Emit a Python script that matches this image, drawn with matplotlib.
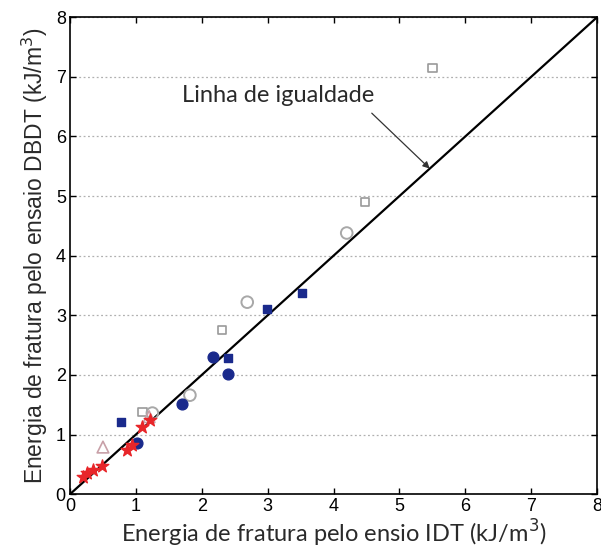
import matplotlib
matplotlib.use("Agg")
import matplotlib.pyplot as plt
import numpy as np

# Fracture energy: IDT (x) vs DBDT (y), kJ/m3
sq_open_x = [5.50, 4.48, 2.31, 1.10]
sq_open_y = [7.15, 4.90, 2.75, 1.38]

circ_open_x = [4.20, 2.69, 1.82, 1.25]
circ_open_y = [4.38, 3.22, 1.66, 1.36]

sq_fill_x = [3.52, 2.99, 2.40, 0.77]
sq_fill_y = [3.37, 3.10, 2.28, 1.21]

circ_fill_x = [2.17, 2.40, 1.70, 1.02]
circ_fill_y = [2.30, 2.01, 1.51, 0.86]

tri_open_x = [0.50, 1.20]
tri_open_y = [0.79, 1.30]

star_x = [0.20, 0.26, 0.35, 0.48, 0.86, 0.94, 1.10, 1.21]
star_y = [0.29, 0.35, 0.40, 0.47, 0.74, 0.82, 1.12, 1.24]

equality = [0, 8]
ticks = [0, 1, 2, 3, 4, 5, 6, 7, 8]

fig = plt.figure(figsize=(6.01, 5.54), dpi=100)
ax = fig.add_axes([0.1165, 0.108, 0.877, 0.861])

ax.plot(equality, equality, color="black", lw=1.6, zorder=2)

navy = "#1a2a8c"
ax.scatter(sq_open_x, sq_open_y, marker="s", s=36, facecolors="none",
           edgecolors="#9a9a9a", linewidths=1.2, zorder=3)
ax.scatter(circ_open_x, circ_open_y, marker="o", s=70, facecolors="none",
           edgecolors="#a8a8a8", linewidths=1.4, zorder=3)
ax.scatter(sq_fill_x, sq_fill_y, marker="s", s=36, color=navy, zorder=3)
ax.scatter(circ_fill_x, circ_fill_y, marker="o", s=60, color=navy, zorder=3)
ax.scatter(tri_open_x, tri_open_y, marker="^", s=70, facecolors="none",
           edgecolors="#c8a0a8", linewidths=1.2, zorder=3)
ax.scatter(star_x, star_y, marker="*", s=90, color="#e8262a", zorder=4)

# equality-line label and its pointer
ax.text(1.70, 6.68, "Linha de igualdade", fontsize=17, family="Lato",
        va="center", ha="left", color="#2a2a2a")
ax.annotate("", xy=(5.46, 5.46), xytext=(4.58, 6.39),
            arrowprops=dict(arrowstyle="-|>", color="#333333", lw=0.9,
                            shrinkA=0, shrinkB=0, mutation_scale=10))

ax.set_xlim(0, 8)
ax.set_ylim(0, 8)
ax.set_xticks(ticks)
ax.set_yticks(ticks)
ax.tick_params(direction="in", length=4, width=1, top=True, right=True,
               labelsize=13, pad=3)
for lab in ax.get_xticklabels() + ax.get_yticklabels():
    lab.set_family("Liberation Sans")
ax.yaxis.grid(True, linestyle=(0, (1.5, 2)), color="#b0b0b0", lw=0.9)
ax.set_axisbelow(True)
for sp in ax.spines.values():
    sp.set_linewidth(1.2)

ax.set_xlabel("Energia de fratura pelo ensio IDT (kJ/m$^3$)", fontsize=17,
              family="Lato", labelpad=2, color="#2a2a2a")
ax.set_ylabel("Energia de fratura pelo ensaio DBDT (kJ/m$^3$)", fontsize=16.5,
              family="Liberation Sans", labelpad=4, color="#2a2a2a")

fig.savefig("out.png", dpi=100)
